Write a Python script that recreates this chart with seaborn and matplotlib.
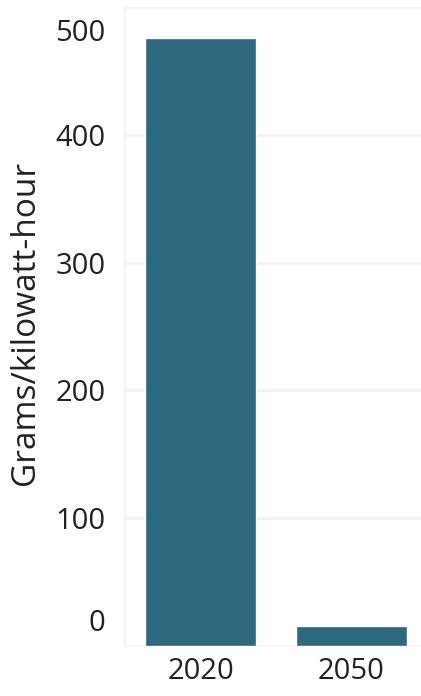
import matplotlib
matplotlib.use("Agg")
import matplotlib.pyplot as plt
import matplotlib.transforms as mtransforms
import seaborn as sns
import pandas as pd

years = ["2020", "2050"]
intensity = [476, 16]
y_ticks = [0, 100, 200, 300, 400, 500]
y_label = "Grams/kilowatt-hour"

bar_color = "#2D687E"
text_color = "#222222"

sns.set_style("whitegrid")
plt.rcParams["font.family"] = ["Open Sans", "DejaVu Sans"]

df = pd.DataFrame({"year": years, "value": intensity})

fig = plt.figure(figsize=(4.21, 6.96), dpi=100)
ax = fig.add_axes([0.297, 0.0718, 0.703, 0.918])

sns.barplot(data=df, x="year", y="value", color=bar_color, saturation=1,
            width=0.74, ax=ax)

ax.set_ylim(0, 500)
ax.set_xlim(-0.5, 1.46)
ax.set_yticks(y_ticks)
ax.set_yticklabels([str(t) for t in y_ticks])
ax.set_xlabel("")
ax.set_ylabel(y_label, fontsize=24, color=text_color)
ax.yaxis.set_label_coords(-0.28, 0.505)

ax.tick_params(axis="y", labelsize=21, colors=text_color, length=0, pad=14)
ax.tick_params(axis="x", labelsize=21, colors=text_color, length=0, pad=8)

ax.grid(axis="y", color="#f2f2f2", linewidth=2)
ax.grid(axis="x", visible=False)
ax.set_axisbelow(True)
for side in ["top", "right", "bottom"]:
    ax.spines[side].set_visible(False)
ax.spines["left"].set_color("#f2f2f2")
ax.spines["left"].set_linewidth(1.5)

# nudge the outermost y labels inward
labels = ax.get_yticklabels()
shifts = {"0": 26, "500": -23}
for lab in labels:
    dy = shifts.get(lab.get_text(), 0)
    if dy:
        off = mtransforms.ScaledTranslation(0, dy / 100, fig.dpi_scale_trans)
        lab.set_transform(lab.get_transform() + off)

fig.savefig("out.png", dpi=100)
